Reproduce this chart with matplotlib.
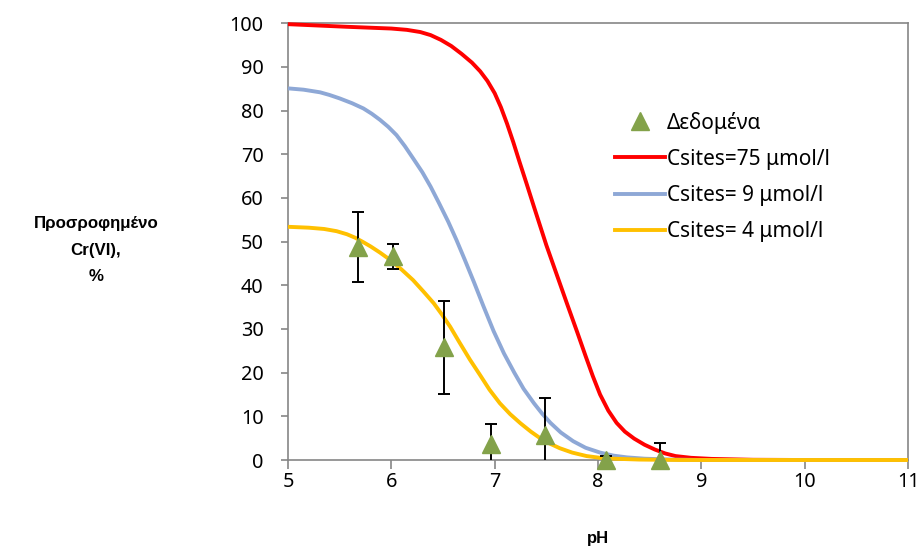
import matplotlib
matplotlib.use("Agg")
import matplotlib.pyplot as plt
from matplotlib.lines import Line2D

plt.rcParams['font.family'] = ['Noto Sans', 'DejaVu Sans']

# ---- data ----
data_ph = [5.68, 6.02, 6.51, 6.96, 7.49, 8.08, 8.60]
data_val = [48.8, 46.6, 25.8, 3.7, 5.7, 0.0, 0.0]
data_err = [8.1, 2.9, 10.7, 4.5, 8.4, 1.0, 3.8]

red_ph = [5.0, 5.57, 6.0, 6.15, 6.28, 6.38, 6.48, 6.58, 6.68, 6.78, 6.86, 6.93, 7.0,
          7.06, 7.12, 7.18, 7.24, 7.31, 7.38, 7.44, 7.50, 7.60, 7.70, 7.80, 7.88,
          7.95, 8.02, 8.10, 8.18, 8.26, 8.35, 8.45, 8.55, 8.65, 8.75, 8.9, 9.1,
          9.5, 10.0, 11.0]
red_val = [99.8, 99.2, 98.8, 98.5, 98.0, 97.3, 96.2, 94.8, 93.0, 91.0, 89.0, 86.8, 84.0,
           80.8, 77.0, 72.8, 68.3, 63.2, 58.0, 53.6, 49.2, 42.5, 35.8, 29.2, 23.8,
           19.2, 15.0, 11.3, 8.5, 6.5, 4.9, 3.5, 2.4, 1.5, 0.9, 0.5, 0.25,
           0.05, 0.0, 0.0]

blue_ph = [5.0, 5.15, 5.31, 5.40, 5.50, 5.62, 5.73, 5.81, 5.89, 5.97, 6.05, 6.13, 6.21,
           6.30, 6.38, 6.46, 6.55, 6.63, 6.71, 6.80, 6.89, 6.99, 7.09, 7.19, 7.28,
           7.38, 7.46, 7.54, 7.64, 7.76, 7.88, 8.02, 8.15, 8.28, 8.45, 8.7, 9.0,
           10.0, 11.0]
blue_val = [85.1, 84.8, 84.2, 83.6, 82.8, 81.7, 80.5, 79.3, 77.9, 76.3, 74.4, 71.9, 69.1,
            65.9, 62.6, 58.9, 54.6, 50.4, 45.9, 40.7, 35.3, 29.5, 24.4, 20.0, 16.3,
            13.0, 10.6, 8.5, 6.3, 4.3, 2.8, 1.7, 1.0, 0.6, 0.3, 0.1, 0.0,
            0.0, 0.0]

yellow_ph = [5.0, 5.2, 5.35, 5.47, 5.57, 5.65, 5.72, 5.80, 5.89, 5.99, 6.10, 6.21, 6.31,
             6.41, 6.49, 6.57, 6.66, 6.76, 6.86, 6.95, 7.05, 7.15, 7.25, 7.35, 7.44,
             7.53, 7.63, 7.75, 7.89, 8.02, 8.15, 8.4, 8.8, 10.0, 11.0]
yellow_val = [53.4, 53.2, 52.9, 52.4, 51.7, 50.9, 50.0, 48.9, 47.5, 45.8, 43.6, 41.2, 38.6,
              35.9, 33.3, 30.5, 26.9, 23.0, 19.4, 16.1, 13.0, 10.5, 8.4, 6.5, 5.0,
              3.8, 2.7, 1.7, 0.9, 0.5, 0.3, 0.1, 0.0, 0.0, 0.0]

labels = ['Δεδομένα', 'Csites=75 μmol/l', 'Csites= 9 μmol/l', 'Csites= 4 μmol/l']
x_ticks = [5, 6, 7, 8, 9, 10, 11]
y_ticks = [0, 10, 20, 30, 40, 50, 60, 70, 80, 90, 100]

RED = '#FF0000'
BLUE = '#8EA8D6'
YELLOW = '#FFC000'
GREEN = '#83A24A'
GRAY = '#868686'

fig = plt.figure(figsize=(9.23, 5.49), dpi=100)
ax = fig.add_axes([288/923, 1 - 460/549, 620/923, (460 - 23.3)/549])

for xs, ys, c in [(red_ph, red_val, RED), (blue_ph, blue_val, BLUE),
                  (yellow_ph, yellow_val, YELLOW)]:
    ax.plot(xs, ys, color=c, lw=2.8, solid_capstyle='butt', solid_joinstyle='round',
            zorder=3, clip_on=False)

ax.errorbar(data_ph, data_val, yerr=data_err, fmt='none', ecolor='black',
            elinewidth=1.4, capsize=4, capthick=1.4, zorder=4)
ax.plot(data_ph, data_val, linestyle='none', marker='^', markersize=13,
        color=GREEN, markeredgecolor=GREEN, zorder=5, clip_on=False)

ax.set_xlim(5, 11)
ax.set_ylim(0, 100)
ax.set_xticks(x_ticks)
ax.set_yticks(y_ticks)
ax.tick_params(axis='x', direction='out', length=6.5, width=1.2, color=GRAY,
               labelsize=14.3, pad=2)
ax.tick_params(axis='y', direction='out', length=5, width=1.2, color=GRAY,
               labelsize=14.3, pad=12.5)
for s in ax.spines.values():
    s.set_color(GRAY)
    s.set_linewidth(1.2)
    s.set_zorder(2)

fig.text(598/923, 1 - 538/549, 'pH', ha='center', va='center',
         fontsize=12, fontweight='bold', family='Liberation Sans')
fig.text(96/923, 1 - 250/549, 'Προσροφημένο\nCr(VI),\n%', ha='center', va='center',
         fontsize=12.2, fontweight='bold', family='Liberation Sans', linespacing=1.95)

handles = [
    Line2D([], [], linestyle='none', marker='^', markersize=13, color=GREEN),
    Line2D([], [], color=RED, lw=2.8),
    Line2D([], [], color=BLUE, lw=2.8),
    Line2D([], [], color=YELLOW, lw=2.8),
]
leg = ax.legend(handles, labels, loc='upper left', bbox_to_anchor=(0.527, 0.798),
                frameon=False, fontsize=15, handlelength=2.4, handletextpad=0.1,
                labelspacing=0.73, borderaxespad=0, borderpad=0)

fig.savefig('out.png', dpi=100)
